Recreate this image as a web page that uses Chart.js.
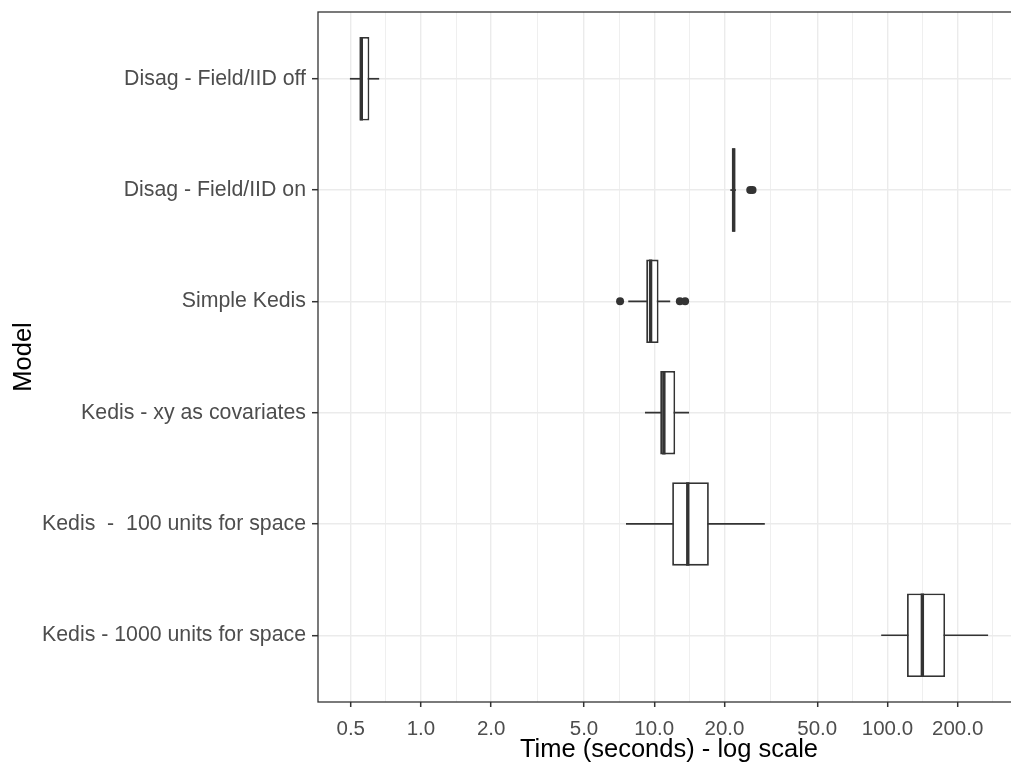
<!DOCTYPE html>
<html>
<head>
<meta charset="utf-8">
<title>Model run times</title>
<script src="https://cdn.jsdelivr.net/npm/chart.js@4.4.1/dist/chart.umd.min.js"></script>
<style>
  html, body { margin: 0; padding: 0; overflow: hidden; background: #ffffff; }
  .wrap { position: relative; width: 1024px; height: 770px; }
</style>
</head>
<body>
<div class="wrap"><canvas id="timeChart"></canvas></div>
<script>
var models = ["Disag - Field/IID off", "Disag - Field/IID on", "Simple Kedis",
              "Kedis - xy as covariates", "Kedis  -  100 units for space", "Kedis - 1000 units for space"];

// five-number summaries per model, seconds
var whiskerLow  = [0.496, 21.2, 7.74, 9.13, 7.57, 94.0];
var boxLow      = [0.547, 21.6, 9.24, 10.61, 11.94, 121.3];
var medianTime  = [0.555, 21.9, 9.65, 11.0, 13.93, 141.1];
var boxHigh     = [0.601, 22.28, 10.44, 12.30, 17.15, 176.6];
var whiskerHigh = [0.662, 22.4, 11.71, 14.11, 29.8, 270];
var outliers    = [[], [25.8, 26.4], [7.14, 12.88, 13.57], [], [], []];

var xTicks = [0.5, 1, 2, 5, 10, 20, 50, 100, 200];

var dark = '#333333';
var gridCol = '#EBEBEB';
var boxHalf = 0.375;

Chart.defaults.font.family = "'Liberation Sans', Arial, sans-serif";

// x limits: data range padded by 5% on the log scale
var allVals = whiskerLow.concat(whiskerHigh, [].concat.apply([], outliers));
var lo = Math.log10(Math.min.apply(null, allVals));
var hi = Math.log10(Math.max.apply(null, allVals));
var xMin = Math.pow(10, lo - 0.05 * (hi - lo));
var xMax = Math.pow(10, hi + 0.05 * (hi - lo));

// minor lines sit halfway (in log space) between the major breaks
var ext = [xTicks[0] * xTicks[0] / xTicks[1]].concat(xTicks, [xTicks[xTicks.length - 1] * xTicks[xTicks.length - 1] / xTicks[xTicks.length - 2]]);
var minorTicks = [];
for (var k = 1; k < ext.length; k++) minorTicks.push(Math.sqrt(ext[k] * ext[k - 1]));
var gridValues = xTicks.concat(minorTicks).filter(function (v) { return v >= xMin && v <= xMax; })
  .sort(function (a, b) { return a - b; });

function isMajor(v) { return xTicks.indexOf(v) >= 0; }

// fixed axis boxes, no extra room for overhanging labels
function noPad(axis) {
  axis.paddingTop = 0;
  axis.paddingBottom = 0;
  axis.paddingLeft = 0;
  axis.paddingRight = 0;
}

var datasets = [];

datasets.push({
  type: 'scatter',
  data: outliers.reduce(function (acc, vals, i) {
    return acc.concat(vals.map(function (v) { return {x: v, y: i + 1}; }));
  }, []),
  backgroundColor: dark,
  borderWidth: 0,
  pointRadius: 4,
  order: 0
});

models.forEach(function (m, i) {
  datasets.push({
    type: 'line',
    data: [{x: medianTime[i], y: i + 1 - boxHalf}, {x: medianTime[i], y: i + 1 + boxHalf}],
    borderColor: dark,
    borderWidth: 3.4,
    pointRadius: 0,
    order: 1
  });
});

datasets.push({
  type: 'bar',
  data: models.map(function (m, i) { return {x: [boxLow[i], boxHigh[i]], y: i + 1}; }),
  backgroundColor: '#ffffff',
  borderColor: dark,
  borderWidth: 1.8,
  borderSkipped: false,
  categoryPercentage: 1,
  barPercentage: 0.75,
  grouped: false,
  order: 2
});

models.forEach(function (m, i) {
  datasets.push({
    type: 'line',
    data: [{x: whiskerLow[i], y: i + 1}, {x: whiskerHigh[i], y: i + 1}],
    borderColor: dark,
    borderWidth: 1.7,
    pointRadius: 0,
    order: 3
  });
});

var panelBorder = {
  id: 'panelBorder',
  afterDraw: function (chart) {
    var a = chart.chartArea, ctx = chart.ctx;
    ctx.save();
    ctx.strokeStyle = dark;
    ctx.lineWidth = 1.3;
    ctx.strokeRect(a.left, a.top, a.right - a.left, a.bottom - a.top);
    ctx.restore();
  }
};

new Chart(document.getElementById('timeChart'), {
  type: 'bar',
  data: { datasets: datasets },
  plugins: [panelBorder],
  options: {
    indexAxis: 'y',
    responsive: true,
    maintainAspectRatio: false,
    animation: false,
    events: [],
    layout: { padding: { top: 12, right: 2, bottom: 0, left: 0 } },
    plugins: { legend: { display: false }, tooltip: { enabled: false } },
    scales: {
      x: {
        type: 'logarithmic',
        min: xMin,
        max: xMax,
        afterBuildTicks: function (axis) {
          axis.ticks = gridValues.map(function (v) { return {value: v}; });
        },
        afterFit: function (axis) { axis.height = 68; noPad(axis); },
        ticks: {
          autoSkip: false,
          maxRotation: 0,
          color: '#4D4D4D',
          font: { size: 20.5 },
          padding: 10,
          callback: function (value) { return isMajor(value) ? value.toFixed(1) : ''; }
        },
        grid: {
          color: gridCol,
          lineWidth: function (ctx) { return ctx.tick && isMajor(ctx.tick.value) ? 1.4 : 0.8; },
          tickLength: 5,
          tickWidth: 1.5,
          tickColor: function (ctx) { return ctx.tick && isMajor(ctx.tick.value) ? dark : 'rgba(0,0,0,0)'; }
        },
        border: { display: false },
        title: {
          display: true,
          text: 'Time (seconds) - log scale',
          color: '#000000',
          font: { size: 25.5 },
          padding: { top: 0, bottom: 5 }
        }
      },
      y: {
        type: 'linear',
        min: 0.4,
        max: 6.6,
        reverse: true,
        offset: false,
        afterBuildTicks: function (axis) {
          axis.ticks = models.map(function (m, i) { return {value: i + 1}; });
        },
        afterFit: function (axis) { axis.width = 318; noPad(axis); },
        ticks: {
          color: '#4D4D4D',
          font: { size: 21.3 },
          padding: 6,
          callback: function (value) { return models[value - 1]; }
        },
        grid: {
          offset: false,
          color: gridCol,
          lineWidth: 1.4,
          tickLength: 6,
          tickWidth: 1.5,
          tickColor: dark
        },
        border: { display: false },
        title: {
          display: true,
          text: 'Model',
          color: '#000000',
          font: { size: 25.5 },
          padding: { top: 9, bottom: 0 }
        }
      }
    }
  }
});
</script>
</body>
</html>
